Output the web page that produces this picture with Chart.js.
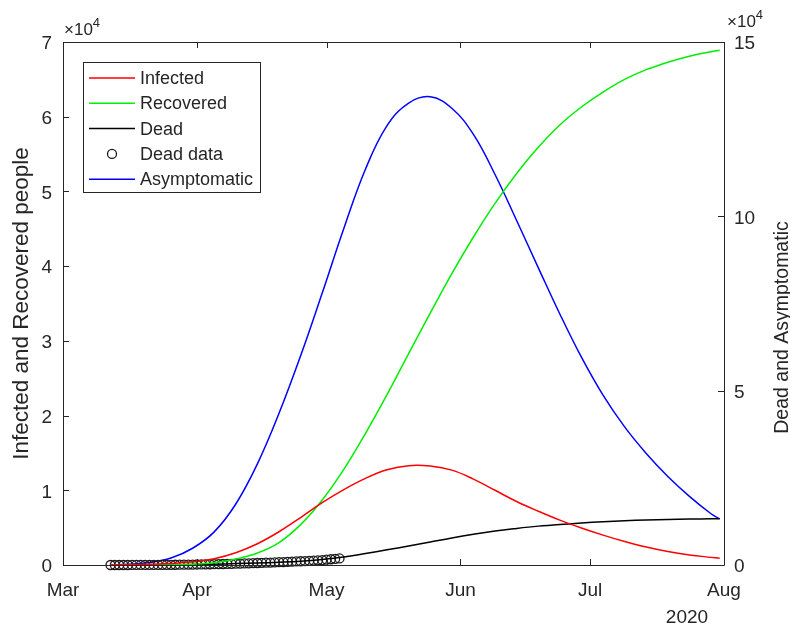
<!DOCTYPE html>
<html>
<head>
<meta charset="utf-8">
<script src="https://cdn.jsdelivr.net/npm/chart.js@4.4.1/dist/chart.umd.min.js"></script>
<style>
  html, body { margin: 0; padding: 0; background: #ffffff; }
  #wrap { width: 790px; height: 626px; }
</style>
</head>
<body>
<div id="wrap"><canvas id="c" width="790" height="626"></canvas></div>
<script>
// Model output (people), sampled on these dates
const simDates = [
  '2020-03-12','2020-03-16','2020-03-21','2020-03-26','2020-03-31','2020-04-05',
  '2020-04-10','2020-04-15','2020-04-20','2020-04-25','2020-04-30','2020-05-05',
  '2020-05-10','2020-05-15','2020-05-20','2020-05-25','2020-05-30','2020-06-04',
  '2020-06-09','2020-06-14','2020-06-19','2020-06-24','2020-06-29','2020-07-04',
  '2020-07-09','2020-07-14','2020-07-19','2020-07-24','2020-07-29','2020-07-31'
];
const infected = [
  30, 50, 100, 200, 420, 850, 1650, 2850, 4450, 6350, 8350, 10100,
  11600, 12750, 13300, 13250, 12700, 11500, 10000, 8500, 7200, 6000,
  4950, 4000, 3150, 2400, 1800, 1350, 1020, 900
];
const recovered = [
  0, 0, 10, 30, 100, 300, 800, 1600, 3000, 5400, 8700, 12800,
  17600, 22800, 28300, 33700, 39000, 43900, 48400, 52400, 55900, 58900,
  61300, 63300, 65000, 66300, 67300, 68100, 68700, 68900
];
const dead = [
  0, 10, 30, 70, 140, 250, 400, 580, 800, 1100, 1600, 2300,
  3300, 4350, 5450, 6600, 7750, 8800, 9750, 10500, 11150, 11650,
  12050, 12400, 12680, 12900, 13060, 13180, 13270, 13300
];
const asymptomatic = [
  0, 200, 700, 2000, 4800, 9500, 17500, 29000, 43500, 60000, 78000, 96500,
  113500, 126000, 132500, 134300, 131000, 123500, 112000, 98800, 85300, 72000,
  59600, 48700, 39600, 32000, 25400, 19700, 14700, 13200
];

// Reported cumulative deaths (people), daily
const deadDataDates = [
  '2020-03-12','2020-03-13','2020-03-14','2020-03-15','2020-03-16','2020-03-17',
  '2020-03-18','2020-03-19','2020-03-20','2020-03-21','2020-03-22','2020-03-23',
  '2020-03-24','2020-03-25','2020-03-26','2020-03-27','2020-03-28','2020-03-29',
  '2020-03-30','2020-03-31','2020-04-01','2020-04-02','2020-04-03','2020-04-04',
  '2020-04-05','2020-04-06','2020-04-07','2020-04-08','2020-04-09','2020-04-10',
  '2020-04-11','2020-04-12','2020-04-13','2020-04-14','2020-04-15','2020-04-16',
  '2020-04-17','2020-04-18','2020-04-19','2020-04-20','2020-04-21','2020-04-22',
  '2020-04-23','2020-04-24','2020-04-25','2020-04-26','2020-04-27','2020-04-28',
  '2020-04-29','2020-04-30','2020-05-01','2020-05-02','2020-05-03','2020-05-04'
];
const deadData = [
  0, 0, 0, 0, 0, 10, 10, 10, 20, 20,
  30, 30, 40, 50, 60, 70, 80, 100, 110, 130,
  150, 170, 190, 210, 240, 260, 290, 320, 350, 380,
  420, 450, 490, 530, 570, 610, 660, 700, 750, 800,
  850, 900, 960, 1020, 1080, 1140, 1200, 1270, 1340, 1410,
  1550, 1650, 1780, 1900
];

// Axis ticks
const monthTickDates = ['2020-03-01','2020-04-01','2020-05-01','2020-06-01','2020-07-01','2020-08-01'];
const monthTickLabels = ['Mar','Apr','May','Jun','Jul','Aug'];
const leftTicks = [0, 10000, 20000, 30000, 40000, 50000, 60000, 70000];
const rightTicks = [0, 50000, 100000, 150000];

const FONT = '"Liberation Sans", Arial, Helvetica, sans-serif';
const INK = '#262626';

const toTime = s => Date.parse(s + 'T00:00:00Z');
const toPoints = (dates, vals) => dates.map((d, i) => ({ x: toTime(d), y: vals[i] }));
const monthTickTimes = monthTickDates.map(toTime);

Chart.defaults.font.family = FONT;
Chart.defaults.color = INK;

// Box around the axes with inward tick marks on every side
const framePlugin = {
  id: 'frame',
  afterDatasetsDraw(chart) {
    const { ctx, chartArea: a, scales } = chart;
    const L = 6;
    ctx.save();
    ctx.strokeStyle = INK;
    ctx.lineWidth = 1;
    ctx.beginPath();
    ctx.rect(Math.round(a.left) + 0.5, Math.round(a.top) + 0.5,
             Math.round(a.right - a.left), Math.round(a.bottom - a.top));
    scales.x.ticks.forEach(t => {
      const px = Math.round(scales.x.getPixelForValue(t.value)) + 0.5;
      ctx.moveTo(px, a.bottom); ctx.lineTo(px, a.bottom - L);
      ctx.moveTo(px, a.top); ctx.lineTo(px, a.top + L);
    });
    scales.yL.ticks.forEach(t => {
      const py = Math.round(scales.yL.getPixelForValue(t.value)) + 0.5;
      ctx.moveTo(a.left, py); ctx.lineTo(a.left + L, py);
    });
    scales.yR.ticks.forEach(t => {
      const py = Math.round(scales.yR.getPixelForValue(t.value)) + 0.5;
      ctx.moveTo(a.right, py); ctx.lineTo(a.right - L, py);
    });
    ctx.stroke();
    ctx.restore();
  }
};

// Axis titles, exponent notes, year note and the boxed legend
const annotationPlugin = {
  id: 'annotations',
  afterDraw(chart) {
    const { ctx, chartArea: a } = chart;
    ctx.save();
    ctx.fillStyle = INK;

    // axis titles
    ctx.textAlign = 'center';
    ctx.textBaseline = 'middle';
    ctx.save();
    ctx.font = '22.5px ' + FONT;
    ctx.translate(22, (a.top + a.bottom) / 2);
    ctx.rotate(-Math.PI / 2);
    ctx.fillText('Infected and Recovered people', 0, 0);
    ctx.restore();
    ctx.save();
    ctx.font = '19.5px ' + FONT;
    ctx.translate(783, (a.top + a.bottom) / 2 + 24);
    ctx.rotate(-Math.PI / 2);
    ctx.fillText('Dead and Asymptomatic', 0, 0);
    ctx.restore();

    // exponent notes
    const expo = (x, y) => {
      ctx.textAlign = 'left';
      ctx.textBaseline = 'alphabetic';
      ctx.font = '17px ' + FONT;
      ctx.fillText('\u00d710', x, y);
      const w = ctx.measureText('\u00d710').width;
      ctx.font = '13px ' + FONT;
      ctx.fillText('4', x + w, y - 8);
    };
    expo(a.left + 1, a.top - 7);
    expo(a.right + 3, a.top - 15);

    // year
    ctx.font = '19px ' + FONT;
    ctx.textAlign = 'center';
    ctx.textBaseline = 'middle';
    ctx.fillText('2020', 687, 618);

    // legend
    const bx = a.left + 20, by = a.top + 20, bw = 177, bh = 130;
    ctx.fillStyle = '#ffffff';
    ctx.fillRect(bx, by, bw, bh);
    ctx.strokeStyle = INK;
    ctx.lineWidth = 1;
    ctx.strokeRect(bx + 0.5, by + 0.5, bw, bh);
    ctx.font = '18px ' + FONT;
    ctx.textAlign = 'left';
    ctx.textBaseline = 'middle';
    chart.data.datasets.forEach((ds, i) => {
      const y = by + 16 + i * 25.3;
      if (ds.showLine === false) {
        ctx.beginPath();
        ctx.arc(bx + 29, y, 4.5, 0, Math.PI * 2);
        ctx.strokeStyle = ds.borderColor;
        ctx.lineWidth = 1.3;
        ctx.stroke();
      } else {
        ctx.beginPath();
        ctx.moveTo(bx + 6, y);
        ctx.lineTo(bx + 52, y);
        ctx.strokeStyle = ds.borderColor;
        ctx.lineWidth = 1.5;
        ctx.stroke();
      }
      ctx.fillStyle = INK;
      ctx.fillText(ds.label, bx + 57, y + 1);
    });
    ctx.restore();
  }
};

const lineDs = (label, color, data, axis) => ({
  label, data, yAxisID: axis,
  borderColor: color, backgroundColor: color,
  borderWidth: 1.5, pointRadius: 0, pointHoverRadius: 0,
  tension: 0.4, fill: false, clip: false
});

new Chart(document.getElementById('c'), {
  type: 'line',
  data: {
    datasets: [
      lineDs('Infected', '#ff0000', toPoints(simDates, infected), 'yL'),
      lineDs('Recovered', '#00ee00', toPoints(simDates, recovered), 'yL'),
      lineDs('Dead', '#000000', toPoints(simDates, dead), 'yR'),
      {
        label: 'Dead data', data: toPoints(deadDataDates, deadData), yAxisID: 'yR',
        showLine: false, pointStyle: 'circle', pointRadius: 4.5, pointHoverRadius: 4.5,
        borderColor: '#1a1a1a', backgroundColor: 'rgba(0,0,0,0)', pointBorderWidth: 1.3,
        clip: false
      },
      lineDs('Asymptomatic', '#0000ff', toPoints(simDates, asymptomatic), 'yR')
    ]
  },
  options: {
    responsive: false,
    animation: false,
    events: [],
    layout: { padding: { top: 42, left: 0, right: 0, bottom: 0 } },
    plugins: { legend: { display: false }, tooltip: { enabled: false } },
    scales: {
      x: {
        type: 'linear',
        min: monthTickTimes[0],
        max: monthTickTimes[monthTickTimes.length - 1],
        afterBuildTicks: s => { s.ticks = monthTickTimes.map(v => ({ value: v })); },
        afterFit: s => { s.height = 61; },
        grid: { display: false, drawTicks: false },
        border: { display: false },
        ticks: {
          autoSkip: false, maxRotation: 0, padding: 14,
          font: { size: 19 }, color: INK,
          callback: v => monthTickLabels[monthTickTimes.indexOf(v)]
        }
      },
      yL: {
        type: 'linear', position: 'left',
        min: 0, max: 70000,
        afterBuildTicks: s => { s.ticks = leftTicks.map(v => ({ value: v })); },
        afterFit: s => { s.width = 63; },
        grid: { display: false, drawTicks: false },
        border: { display: false },
        ticks: { padding: 11, labelOffset: 2, font: { size: 19 }, color: INK, callback: v => v / 10000 }
      },
      yR: {
        type: 'linear', position: 'right',
        min: 0, max: 150000,
        afterBuildTicks: s => { s.ticks = rightTicks.map(v => ({ value: v })); },
        afterFit: s => { s.width = 66; },
        grid: { display: false, drawTicks: false },
        border: { display: false },
        ticks: { padding: 10, labelOffset: 2, font: { size: 19 }, color: INK, callback: v => v / 10000 }
      }
    }
  },
  plugins: [framePlugin, annotationPlugin]
});
</script>
</body>
</html>
